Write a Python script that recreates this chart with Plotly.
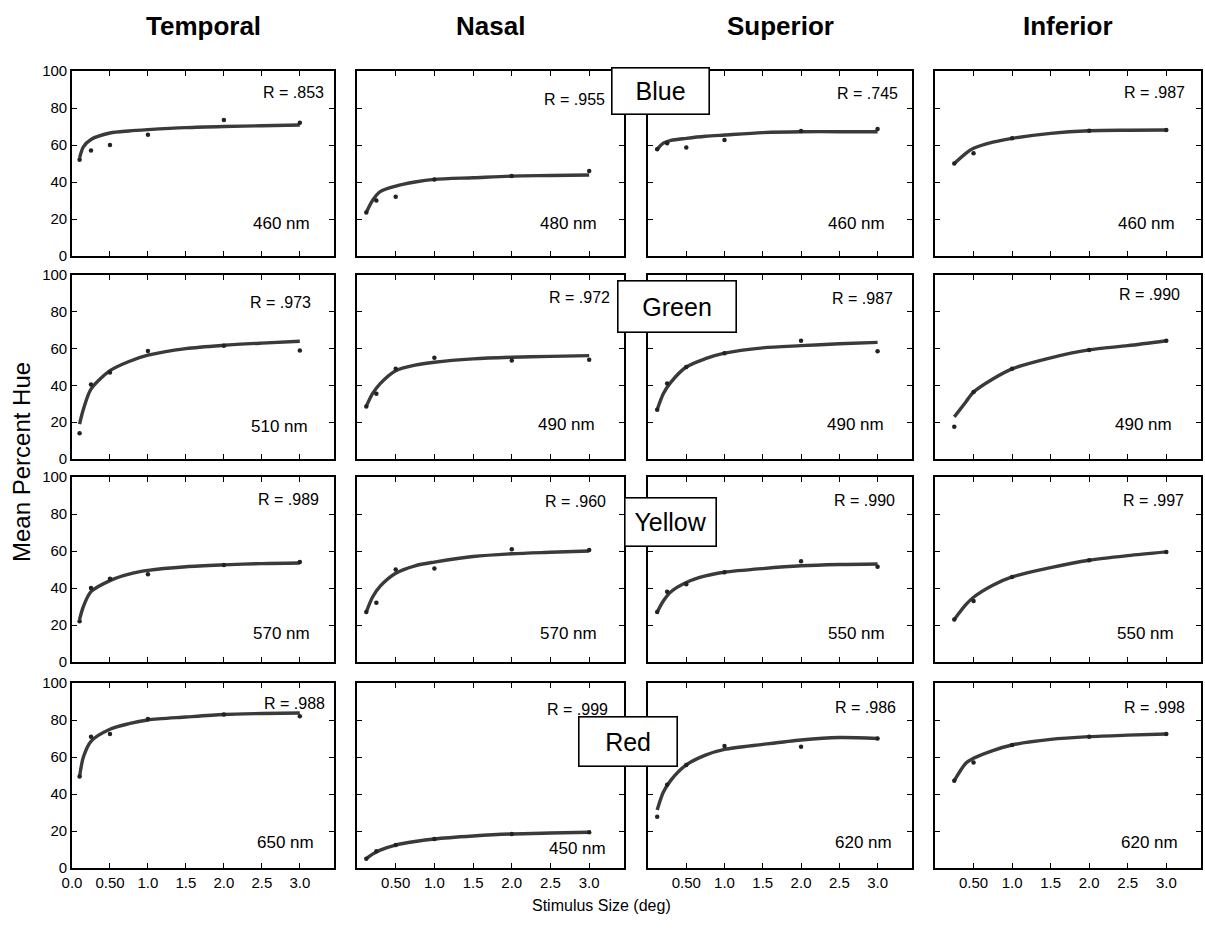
import plotly.graph_objects as go

W, H = 1205, 946

regions = ["Temporal", "Nasal", "Superior", "Inferior"]
hues = ["Blue", "Green", "Yellow", "Red"]

wavelengths = [
    ["460 nm", "480 nm", "460 nm", "460 nm"],
    ["510 nm", "490 nm", "490 nm", "490 nm"],
    ["570 nm", "570 nm", "550 nm", "550 nm"],
    ["650 nm", "450 nm", "620 nm", "620 nm"],
]
r_labels = [
    ["R = .853", "R = .955", "R = .745", "R = .987"],
    ["R = .973", "R = .972", "R = .987", "R = .990"],
    ["R = .989", "R = .960", "R = .990", "R = .997"],
    ["R = .988", "R = .999", "R = .986", "R = .998"],
]

curve_x_temporal = [0.1, 0.15, 0.25, 0.5, 0.75, 1.0, 1.5, 2.0, 2.5, 3.0]
curve_x_nasal = [0.12, 0.2, 0.3, 0.5, 0.75, 1.0, 1.5, 2.0, 2.5, 3.0]
curve_x_superior = [0.12, 0.2, 0.3, 0.5, 0.75, 1.0, 1.5, 2.0, 2.5, 3.0]
curve_x_inferior = [0.25, 0.4, 0.5, 0.75, 1.0, 1.5, 2.0, 2.5, 3.0]

curve_y_temporal = [
    [53, 59, 63, 66.5, 67.6, 68.3, 69.4, 70, 70.4, 70.8],
    [19, 27, 38, 48, 53, 56.4, 60, 61.8, 63, 64],
    [23, 30, 38, 44, 47.5, 49.5, 51.5, 52.5, 53.2, 53.5],
    [49.5, 60, 68.5, 75, 78, 80, 81.6, 83, 83.5, 83.8],
]
curve_y_nasal = [
    [23.5, 30, 34.8, 37.8, 40, 41.4, 42.3, 43.2, 43.5, 43.8],
    [28.6, 35.5, 41, 48, 51, 52.6, 54.4, 55.3, 55.8, 56.2],
    [27, 35, 41, 48, 52, 54, 57, 58.5, 59.3, 60],
    [5, 7.5, 9.7, 12.4, 14.3, 15.7, 17.3, 18.4, 18.9, 19.3],
]
curve_y_superior = [
    [57.7, 61, 62.5, 63.6, 64.7, 65.4, 66.7, 67.2, 67.2, 67.2],
    [26.8, 35.5, 41.8, 50, 54.5, 57.5, 60.4, 61.6, 62.6, 63.4],
    [27, 33, 38, 43, 46.5, 48.5, 50.5, 52, 52.7, 53],
    [31.4, 41, 47.5, 55.7, 61, 64.1, 66.8, 69.2, 70.5, 70],
]
curve_y_inferior = [
    [50, 55.5, 58.2, 61.5, 63.6, 66.3, 67.7, 68, 68.1],
    [22.9, 31, 36.4, 43.5, 49, 55, 59.3, 61.6, 64.3],
    [23, 31, 35, 41.5, 46, 51, 55, 57.5, 59.5],
    [47.2, 56.6, 59.3, 63.5, 66.5, 69.5, 71, 71.8, 72.4],
]

point_x_temporal = [0.1, 0.25, 0.5, 1.0, 2.0, 3.0]
point_x_nasal = [0.12, 0.25, 0.5, 1.0, 2.0, 3.0]
point_x_superior = [0.12, 0.25, 0.5, 1.0, 2.0, 3.0]
point_x_inferior = [0.25, 0.5, 1.0, 2.0, 3.0]

point_y_temporal = [
    [52, 57, 60, 65.5, 73.5, 72],
    [14, 40.5, 47, 58.7, 61.5, 59],
    [22, 40, 45, 47.5, 52.5, 54],
    [49.5, 71, 72.5, 80.5, 83, 82],
]
point_y_nasal = [
    [23.5, 30, 32, 41.4, 43.2, 46],
    [28.6, 35.5, 49, 55, 53.5, 54],
    [27, 32, 50, 50.5, 61, 60.5],
    [5, 9, 12.4, 15.7, 18.4, 19.3],
]
point_y_superior = [
    [57.7, 61, 58.7, 62.7, 67.6, 68.6],
    [26.8, 41, 50, 57.5, 64.3, 58.6],
    [27, 38, 42, 48.5, 54.5, 51.5],
    [27.7, 45, 55.7, 66, 65.6, 70],
]
point_y_inferior = [
    [50, 55.5, 63.6, 67.7, 68.1],
    [17.5, 36.4, 49, 59.3, 64.3],
    [23, 33, 46, 55, 59.5],
    [47.2, 57, 66.5, 71, 72.4],
]

x_tickvals = [0, 0.5, 1.0, 1.5, 2.0, 2.5, 3.0]
x_ticktext_first = ["0.0", "0.50", "1.0", "1.5", "2.0", "2.5", "3.0"]
x_ticktext_other = ["", "0.50", "1.0", "1.5", "2.0", "2.5", "3.0"]
y_tickvals = [0, 20, 40, 60, 80, 100]

curve_x = [curve_x_temporal, curve_x_nasal, curve_x_superior, curve_x_inferior]
curve_y = [curve_y_temporal, curve_y_nasal, curve_y_superior, curve_y_inferior]
point_x = [point_x_temporal, point_x_nasal, point_x_superior, point_x_inferior]
point_y = [point_y_temporal, point_y_nasal, point_y_superior, point_y_inferior]

# ---- layout / style (pixels and fractions of each panel) ----
col_px = [(72, 334), (357, 624), (648, 912), (935, 1201)]
row_px = [(71, 256), (275, 459), (477, 662), (683, 868)]

r_pos_x = [[0.97, 0.936, 0.955, 0.947],
           [0.92, 0.955, 0.935, 0.93],
           [0.95, 0.94, 0.945, 0.945],
           [0.973, 0.947, 0.947, 0.947]]
r_pos_y = [[0.885, 0.845, 0.88, 0.885],
           [0.85, 0.88, 0.875, 0.895],
           [0.88, 0.87, 0.875, 0.875],
           [0.89, 0.855, 0.87, 0.87]]
nm_pos_x = [[0.915, 0.906, 0.905, 0.91],
            [0.91, 0.9, 0.9, 0.9],
            [0.915, 0.905, 0.905, 0.905],
            [0.93, 0.94, 0.93, 0.92]]
nm_pos_y = [[0.178, 0.178, 0.178, 0.178],
            [0.174, 0.185, 0.185, 0.185],
            [0.155, 0.155, 0.155, 0.155],
            [0.14, 0.108, 0.14, 0.14]]

FONT = "Liberation Sans, Arial, Helvetica, sans-serif"

fig = go.Figure()
layout = dict(
    template="none",
    width=W, height=H, autosize=False,
    margin=dict(l=0, r=0, t=0, b=0, pad=0, autoexpand=False),
    paper_bgcolor="white", plot_bgcolor="white",
    showlegend=False,
    font=dict(family=FONT, color="black"),
)
annotations = []

idx = 0
for r in range(4):
    for c in range(4):
        idx += 1
        sfx = "" if idx == 1 else str(idx)
        xa, ya = "x" + sfx, "y" + sfx
        fig.add_trace(go.Scatter(
            x=curve_x[c], y=curve_y[c][r], xaxis=xa, yaxis=ya,
            mode="lines", line=dict(color="#3a3a3a", width=3.4, shape="spline", smoothing=0.8),
            hoverinfo="skip"))
        fig.add_trace(go.Scatter(
            x=point_x[c], y=point_y[c][r], xaxis=xa, yaxis=ya,
            mode="markers", marker=dict(color="#222222", size=4.5),
            hoverinfo="skip"))
        x0, x1 = col_px[c]
        y0, y1 = row_px[r]
        layout["xaxis" + sfx] = dict(
            domain=[x0 / W, x1 / W], anchor=ya, range=[0, 3.45], automargin=False,
            tickmode="array", tickvals=x_tickvals,
            ticktext=x_ticktext_first if c == 0 else x_ticktext_other,
            showticklabels=(r == 3), ticks="inside", ticklen=5, tickwidth=1.3,
            tickcolor="black",
            showline=True, linecolor="black", linewidth=1.6, mirror="ticks",
            showgrid=False, zeroline=False,
            tickfont=dict(size=15, family=FONT, color="black"),
        )
        layout["yaxis" + sfx] = dict(
            domain=[1 - y1 / H, 1 - y0 / H], anchor=xa, range=[0, 100], automargin=False,
            tickmode="array", tickvals=y_tickvals, showticklabels=(c == 0),
            ticks="inside", ticklen=5, tickwidth=1.3, tickcolor="black",
            showline=True, linecolor="black", linewidth=1.6, mirror="ticks",
            showgrid=False, zeroline=False,
            tickfont=dict(size=15, family=FONT, color="black"),
        )
        annotations.append(dict(
            text=r_labels[r][c], xref=xa + " domain", yref=ya + " domain",
            x=r_pos_x[r][c], y=r_pos_y[r][c], xanchor="right", yanchor="middle",
            showarrow=False, font=dict(size=16, family=FONT, color="black")))
        annotations.append(dict(
            text=wavelengths[r][c], xref=xa + " domain", yref=ya + " domain",
            x=nm_pos_x[r][c], y=nm_pos_y[r][c], xanchor="right", yanchor="middle",
            showarrow=False, font=dict(size=17, family=FONT, color="black")))

for c, name in enumerate(regions):
    x0, x1 = col_px[c]
    annotations.append(dict(
        text="<b>" + name + "</b>", xref="paper", yref="paper",
        x=(x0 + x1) / 2 / W, y=1 - 26 / H, xanchor="center", yanchor="middle",
        showarrow=False, font=dict(size=26, family=FONT, color="black")))

hue_box = [(660, 91, 100, 49), (677, 306, 121, 54), (670, 522, 94, 51), (628, 741, 101, 52)]
for name, (cx, cy, bw, bh) in zip(hues, hue_box):
    annotations.append(dict(
        text=name, xref="paper", yref="paper", x=cx / W, y=1 - cy / H,
        xanchor="center", yanchor="middle", showarrow=False,
        width=bw - 4, height=bh - 4, align="center", valign="middle",
        bgcolor="white", bordercolor="black", borderwidth=1.6, borderpad=0,
        font=dict(size=25, family=FONT, color="black")))

annotations.append(dict(
    text="Mean Percent Hue", xref="paper", yref="paper", x=21 / W, y=1 - 462 / H,
    xanchor="center", yanchor="middle", textangle=-90, showarrow=False,
    font=dict(size=24, family=FONT, color="black")))
annotations.append(dict(
    text="Stimulus Size (deg)", xref="paper", yref="paper", x=601 / W, y=1 - 905 / H,
    xanchor="center", yanchor="middle", showarrow=False,
    font=dict(size=16, family=FONT, color="black")))

layout["annotations"] = annotations
fig.update_layout(**layout)
fig.write_html("out.html")
